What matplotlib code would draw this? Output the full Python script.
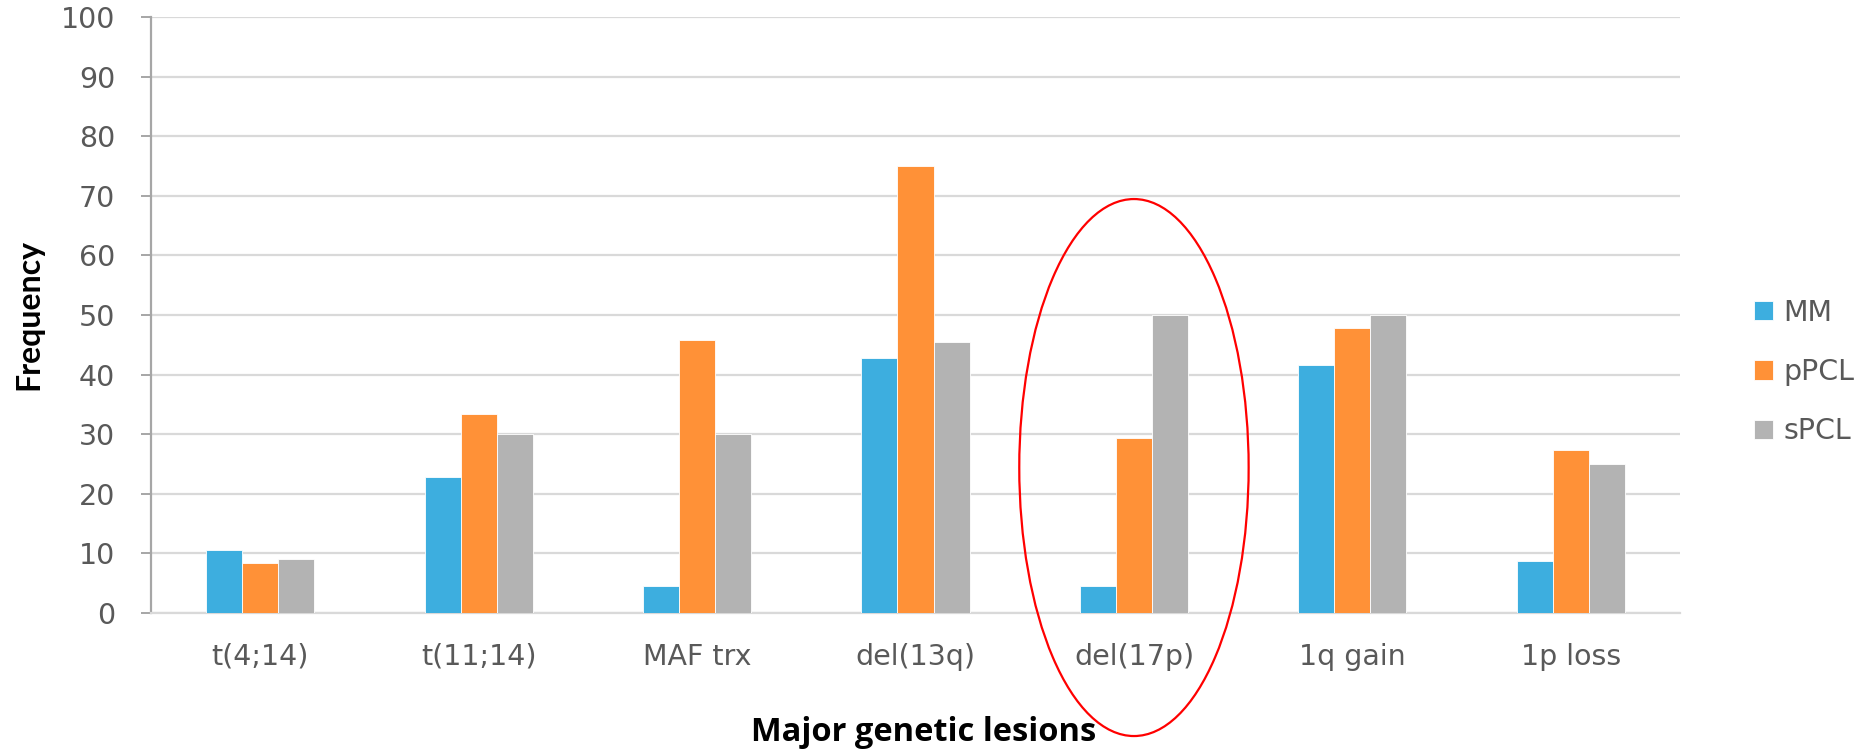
import matplotlib
matplotlib.use("Agg")
import matplotlib.pyplot as plt
from matplotlib.patches import Ellipse
import numpy as np

categories = ["t(4;14)", "t(11;14)", "MAF trx", "del(13q)", "del(17p)", "1q gain", "1p loss"]
series_names = ["MM", "pPCL", "sPCL"]
mm_values = [10.6, 22.8, 4.6, 42.8, 4.5, 41.6, 8.8]
ppcl_values = [8.4, 33.4, 45.8, 75.0, 29.3, 47.8, 27.3]
spcl_values = [9.0, 30.0, 30.0, 45.5, 50.0, 50.0, 25.0]
y_ticks = [0, 10, 20, 30, 40, 50, 60, 70, 80, 90, 100]

colors = ["#3DAEDF", "#FF9137", "#B3B3B3"]
tick_gray = "#595959"

fig = plt.figure(figsize=(18.68, 7.51), dpi=100)
ax = fig.add_axes([0.0808, 0.1838, 0.8186, 0.7936])

x = np.arange(len(categories))
w = 0.165
for i, (vals, name, c) in enumerate(zip([mm_values, ppcl_values, spcl_values], series_names, colors)):
    ax.bar(x + (i - 1) * w, vals, width=w, color=c, label=name,
           edgecolor="white", linewidth=0.6, zorder=3)

ax.set_xlim(-0.5, len(categories) - 0.5)
ax.set_ylim(0, 100)
ax.set_yticks(y_ticks)
ax.set_xticks(x)
ax.set_xticklabels(categories)
ax.grid(axis="y", color="#D9D9D9", linewidth=1.6, zorder=0)
ax.set_axisbelow(True)

for s in ["top", "right"]:
    ax.spines[s].set_visible(False)
ax.spines["left"].set_color("#A6A6A6")
ax.spines["left"].set_linewidth(1.6)
ax.spines["bottom"].set_color("#D9D9D9")
ax.spines["bottom"].set_linewidth(1.6)

ax.tick_params(axis="y", length=7.2, width=1.4, color="#A6A6A6", pad=18.5,
               labelsize=20.5, labelcolor=tick_gray)
ax.tick_params(axis="x", length=0, pad=21.5, labelsize=20.5, labelcolor=tick_gray)

ax.set_ylabel("Frequency", family=["Lato", "DejaVu Sans"],
              fontweight="bold", fontsize=23, color="black", va="center", ha="center")
ax.yaxis.set_label_coords(-0.0795, 0.5)
ax.set_xlabel("Major genetic lesions", family=["Open Sans", "DejaVu Sans"],
              fontweight="bold", fontsize=23.5, color="black", va="center", ha="center")
ax.xaxis.set_label_coords(0.505, -0.2013)

ell = Ellipse((4, 24.4), width=1.05, height=90.1, fill=False, edgecolor="#FF0000",
              linewidth=1.6, clip_on=False, zorder=5)
ax.add_patch(ell)

leg = fig.legend(loc="center left", bbox_to_anchor=(0.939, 0.5047), borderpad=0,
                 borderaxespad=0, frameon=False, handlelength=0.67, handleheight=0.67,
                 handletextpad=0.35, labelspacing=1.1, fontsize=20.5)
for t in leg.get_texts():
    t.set_color(tick_gray)

fig.savefig("out.png", dpi=100)
